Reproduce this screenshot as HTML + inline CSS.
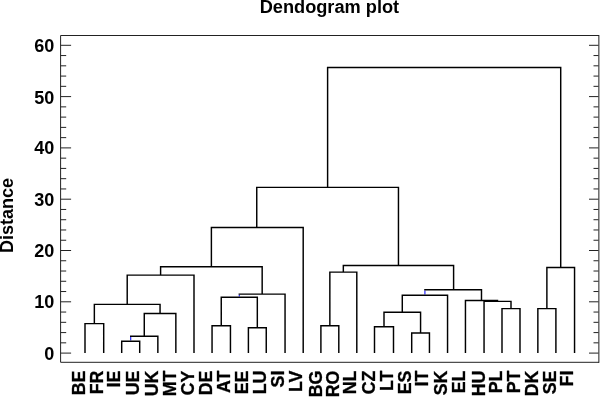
<!DOCTYPE html>
<html><head><meta charset="utf-8"><title>Dendogram plot</title>
<style>
html,body{margin:0;padding:0;background:#fff;}
svg{display:block}
text{font-family:"Liberation Sans",sans-serif;font-weight:bold;fill:#000}
</style></head><body>
<svg width="600" height="397" viewBox="0 0 600 397">
<rect width="600" height="397" fill="#fff"/>
<rect x="598" y="35.0" width="1" height="327.8" fill="#707070"/><rect x="599" y="35.0" width="1" height="327.8" fill="#adadad"/>
<path d="M599.0 35.5H60.6V362.3H599.0" fill="none" stroke="#222" stroke-width="1"/>
<path d="M60.6 353.10h10.5M598.5 353.10h-9.5M60.6 342.84h5.6M598.5 342.84h-5M60.6 332.58h5.6M598.5 332.58h-5M60.6 322.32h5.6M598.5 322.32h-5M60.6 312.06h5.6M598.5 312.06h-5M60.6 301.80h10.5M598.5 301.80h-9.5M60.6 291.54h5.6M598.5 291.54h-5M60.6 281.28h5.6M598.5 281.28h-5M60.6 271.02h5.6M598.5 271.02h-5M60.6 260.76h5.6M598.5 260.76h-5M60.6 250.50h10.5M598.5 250.50h-9.5M60.6 240.24h5.6M598.5 240.24h-5M60.6 229.98h5.6M598.5 229.98h-5M60.6 219.72h5.6M598.5 219.72h-5M60.6 209.46h5.6M598.5 209.46h-5M60.6 199.20h10.5M598.5 199.20h-9.5M60.6 188.94h5.6M598.5 188.94h-5M60.6 178.68h5.6M598.5 178.68h-5M60.6 168.42h5.6M598.5 168.42h-5M60.6 158.16h5.6M598.5 158.16h-5M60.6 147.90h10.5M598.5 147.90h-9.5M60.6 137.64h5.6M598.5 137.64h-5M60.6 127.38h5.6M598.5 127.38h-5M60.6 117.12h5.6M598.5 117.12h-5M60.6 106.86h5.6M598.5 106.86h-5M60.6 96.60h10.5M598.5 96.60h-9.5M60.6 86.34h5.6M598.5 86.34h-5M60.6 76.08h5.6M598.5 76.08h-5M60.6 65.82h5.6M598.5 65.82h-5M60.6 55.56h5.6M598.5 55.56h-5M60.6 45.30h10.5M598.5 45.30h-9.5" fill="none" stroke="#222" stroke-width="1"/>
<path d="M130.70 340.60V337.02 M239.29 296.48V294.81 M497.52 300.69V301.17 M424.92 294.53V290.39" fill="none" stroke="#1c1cff" stroke-width="1.15"/>
<path d="M85.00 353.10V323.60H103.70V353.10 M121.70 353.10V341.30H139.70V353.10 M130.00 336.32H157.85V353.10 M144.27 336.32V313.45H175.85V353.10 M94.35 323.60V304.37H160.06V313.45 M127.21 304.37V275.12H194.00V353.10 M212.05 353.10V325.71H230.45V353.10 M248.40 353.10V327.71H266.25V353.10 M221.25 325.71V297.18H257.32V327.71 M238.59 294.11H285.05V353.10 M160.60 275.12V266.81H262.17V294.11 M211.39 266.81V227.42H303.20V353.10 M320.90 353.10V325.71H338.80V353.10 M329.85 325.71V272.10H356.80V353.10 M374.50 353.10V326.68H393.50V353.10 M411.70 353.10V332.99H429.45V353.10 M384.00 326.68V312.32H420.57V332.99 M402.29 312.32V295.23H447.55V353.10 M502.00 353.10V308.62H520.00V353.10 M484.05 353.10V301.39H511.00V308.62 M465.45 353.10V300.47H498.22 M424.22 289.69H481.49V300.47 M343.33 272.10V265.53H453.60V289.69 M256.75 227.42V187.35H398.46V265.53 M537.85 353.10V308.62H555.90V353.10 M546.88 308.62V267.58H574.55V353.10 M327.61 187.35V67.41H560.71V267.58" fill="none" stroke="#000" stroke-width="1.45" stroke-linejoin="miter"/>
<text transform="translate(329.4,12.6) scale(1.084,1.06)" text-anchor="middle" font-size="16.8">Dendogram plot</text>
<text transform="translate(13.3,215.5) rotate(-90) scale(1.075,1.07)" text-anchor="middle" font-size="16.8">Distance</text>
<text transform="translate(54.4,359.90) scale(1.075,1.10)" text-anchor="end" font-size="16.8">0</text>
<text transform="translate(54.4,308.20) scale(1.075,1.10)" text-anchor="end" font-size="16.8">10</text>
<text transform="translate(54.4,257.40) scale(1.075,1.10)" text-anchor="end" font-size="16.8">20</text>
<text transform="translate(54.4,205.60) scale(1.075,1.10)" text-anchor="end" font-size="16.8">30</text>
<text transform="translate(54.4,154.20) scale(1.075,1.10)" text-anchor="end" font-size="16.8">40</text>
<text transform="translate(54.4,103.70) scale(1.075,1.10)" text-anchor="end" font-size="16.8">50</text>
<text transform="translate(54.4,51.80) scale(1.075,1.10)" text-anchor="end" font-size="16.8">60</text>
<text transform="translate(84.58,370.6) rotate(-90) scale(1,1.023)" text-anchor="end" font-size="17.8" stroke="#000" stroke-width="0.3">BE</text>
<text transform="translate(103.12,370.6) rotate(-90) scale(1,1.023)" text-anchor="end" font-size="17.8" stroke="#000" stroke-width="0.3">FR</text>
<text transform="translate(120.17,370.6) rotate(-90) scale(1,1.023)" text-anchor="end" font-size="17.8" stroke="#000" stroke-width="0.3">IE</text>
<text transform="translate(139.28,370.6) rotate(-90) scale(1,1.023)" text-anchor="end" font-size="17.8" stroke="#000" stroke-width="0.3">UE</text>
<text transform="translate(158.00,370.6) rotate(-90) scale(1,1.023)" text-anchor="end" font-size="17.8" stroke="#000" stroke-width="0.3">UK</text>
<text transform="translate(175.94,370.6) rotate(-90) scale(1,1.023)" text-anchor="end" font-size="17.8" stroke="#000" stroke-width="0.3">MT</text>
<text transform="translate(193.90,370.6) rotate(-90) scale(1,1.023)" text-anchor="end" font-size="17.8" stroke="#000" stroke-width="0.3">CY</text>
<text transform="translate(211.96,370.6) rotate(-90) scale(1,1.023)" text-anchor="end" font-size="17.8" stroke="#000" stroke-width="0.3">DE</text>
<text transform="translate(229.94,370.6) rotate(-90) scale(1,1.023)" text-anchor="end" font-size="17.8" stroke="#000" stroke-width="0.3">AT</text>
<text transform="translate(247.87,370.6) rotate(-90) scale(1,1.023)" text-anchor="end" font-size="17.8" stroke="#000" stroke-width="0.3">EE</text>
<text transform="translate(265.77,370.6) rotate(-90) scale(1,1.023)" text-anchor="end" font-size="17.8" stroke="#000" stroke-width="0.3">LU</text>
<text transform="translate(283.87,370.6) rotate(-90) scale(1,1.023)" text-anchor="end" font-size="17.8" stroke="#000" stroke-width="0.3">SI</text>
<text transform="translate(302.33,370.6) rotate(-90) scale(1,1.023)" text-anchor="end" font-size="17.8" stroke="#000" stroke-width="0.3">LV</text>
<text transform="translate(321.50,370.6) rotate(-90) scale(1,1.023)" text-anchor="end" font-size="17.8" stroke="#000" stroke-width="0.3">BG</text>
<text transform="translate(339.35,370.6) rotate(-90) scale(1,1.023)" text-anchor="end" font-size="17.8" stroke="#000" stroke-width="0.3">RO</text>
<text transform="translate(356.28,370.6) rotate(-90) scale(1,1.023)" text-anchor="end" font-size="17.8" stroke="#000" stroke-width="0.3">NL</text>
<text transform="translate(374.63,370.6) rotate(-90) scale(1,1.023)" text-anchor="end" font-size="17.8" stroke="#000" stroke-width="0.3">CZ</text>
<text transform="translate(392.96,370.6) rotate(-90) scale(1,1.023)" text-anchor="end" font-size="17.8" stroke="#000" stroke-width="0.3">LT</text>
<text transform="translate(411.09,370.6) rotate(-90) scale(1,1.023)" text-anchor="end" font-size="17.8" stroke="#000" stroke-width="0.3">ES</text>
<text transform="translate(428.13,370.6) rotate(-90) scale(1,1.023)" text-anchor="end" font-size="17.8" stroke="#000" stroke-width="0.3">IT</text>
<text transform="translate(447.28,370.6) rotate(-90) scale(1,1.023)" text-anchor="end" font-size="17.8" stroke="#000" stroke-width="0.3">SK</text>
<text transform="translate(464.96,370.6) rotate(-90) scale(1,1.023)" text-anchor="end" font-size="17.8" stroke="#000" stroke-width="0.3">EL</text>
<text transform="translate(484.52,370.6) rotate(-90) scale(1,1.023)" text-anchor="end" font-size="17.8" stroke="#000" stroke-width="0.3">HU</text>
<text transform="translate(501.51,370.6) rotate(-90) scale(1,1.023)" text-anchor="end" font-size="17.8" stroke="#000" stroke-width="0.3">PL</text>
<text transform="translate(519.75,370.6) rotate(-90) scale(1,1.023)" text-anchor="end" font-size="17.8" stroke="#000" stroke-width="0.3">PT</text>
<text transform="translate(538.26,370.6) rotate(-90) scale(1,1.023)" text-anchor="end" font-size="17.8" stroke="#000" stroke-width="0.3">DK</text>
<text transform="translate(555.64,370.6) rotate(-90) scale(1,1.023)" text-anchor="end" font-size="17.8" stroke="#000" stroke-width="0.3">SE</text>
<text transform="translate(573.32,370.6) rotate(-90) scale(1,1.023)" text-anchor="end" font-size="17.8" stroke="#000" stroke-width="0.3">FI</text>
</svg></body></html>
